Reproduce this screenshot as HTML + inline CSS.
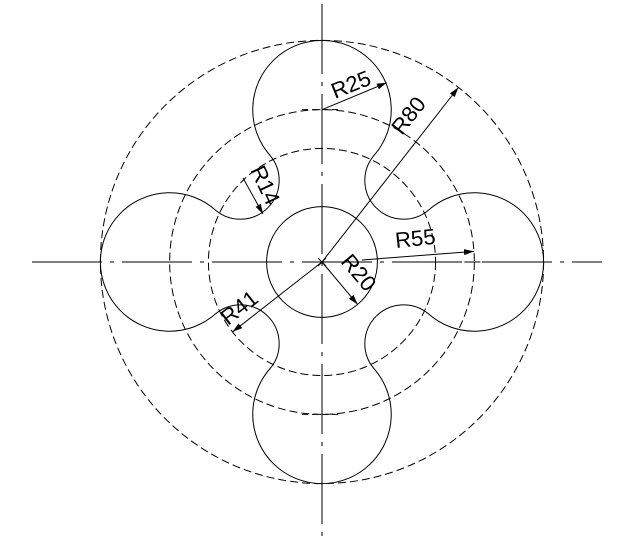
<!DOCTYPE html>
<html><head><meta charset="utf-8"><style>
html,body{margin:0;padding:0;background:#fff;}
svg{display:block;font-family:"Liberation Sans",sans-serif;}
</style></head><body>
<svg id="dwg" width="639" height="555" viewBox="0 0 639 555">
<defs><marker id="ar" viewBox="0 0 10 10" refX="10" refY="5" markerWidth="10" markerHeight="10" orient="auto-start-reverse" markerUnits="userSpaceOnUse"><path d="M0,2 L10,5 L0,8 z" fill="#000"/></marker></defs>
<g id="g" stroke="#000" fill="none" stroke-width="1"></g>
</svg>
<script>
const radii = [80, 55, 41];
const lobeR = 25, filletR = 14, hubR = 20, lobeDist = 55, filletDist = 41;
const labels = ["R80","R55","R41","R25","R20","R14"];
const cx = 322, cy = 262, s = 2.77;
const g = document.getElementById('g');
const NS = 'http://www.w3.org/2000/svg';
function el(tag, attrs, name){const e=document.createElementNS(NS,tag);for(const k in attrs)e.setAttribute(k,attrs[k]);


g.appendChild(e);return e;}
const X = u => cx + u*s, Y = v => cy - v*s;
// center lines
el('line',{x1:32,y1:cy,x2:602,y2:cy,'stroke-dasharray':'70 8 4 8'},'horizontal-centerline');
el('line',{x1:cx,y1:4,x2:cx,y2:540,'stroke-dasharray':'70 8 4 8'},'vertical-centerline');
// dashed circles
radii.forEach(r=>{el('circle',{cx:cx,cy:cy,r:r*s,'stroke-dasharray':'8 4'},'dashed-circle-r'+r);});
// hub
el('circle',{cx:cx,cy:cy,r:hubR*s},'hub-circle');
// outline
const lobes=[[0,lobeDist],[-lobeDist,0],[0,-lobeDist],[lobeDist,0]];
const fil=[[-filletDist/Math.SQRT2,filletDist/Math.SQRT2],[-filletDist/Math.SQRT2,-filletDist/Math.SQRT2],[filletDist/Math.SQRT2,-filletDist/Math.SQRT2],[filletDist/Math.SQRT2,filletDist/Math.SQRT2]];
function tp(L,F){const dx=F[0]-L[0],dy=F[1]-L[1],d=Math.hypot(dx,dy);return [L[0]+lobeR*dx/d,L[1]+lobeR*dy/d];}
let d='';
for(let i=0;i<4;i++){
  const L=lobes[i],Fprev=fil[(i+3)%4],Fnext=fil[i],Lnext=lobes[(i+1)%4];
  const a=tp(L,Fprev),b=tp(L,Fnext),c=tp(Lnext,Fnext);
  if(i===0)d+=`M${X(a[0])},${Y(a[1])}`;
  d+=` A${lobeR*s},${lobeR*s} 0 1 0 ${X(b[0])},${Y(b[1])}`;
  d+=` A${filletR*s},${filletR*s} 0 0 1 ${X(c[0])},${Y(c[1])}`;
}
el('path',{d:d+'Z'},'outer-profile');
// lobe center marks
lobes.forEach((L,i)=>{
  el('line',{x1:X(L[0])-20,y1:Y(L[1]),x2:X(L[0])+20,y2:Y(L[1]),'stroke-dasharray':'6 4'},'lobe-center-mark-h');
});
// center X
el('path',{d:`M${cx-4},${cy-4}L${cx+4},${cy+4}M${cx+4},${cy-4}L${cx-4},${cy+4}`},'center-mark');
// dimensions
function dim(x1,y1,x2,y2,txt,tx,ty,rot,name){
  el('line',{x1,y1,x2,y2,'marker-end':'url(#ar)'},name+'-line');
  const t=el('text',{x:tx,y:ty,'font-size':22,fill:'#000',stroke:'none',transform:`rotate(${rot} ${tx} ${ty})`},name+'-label');
  t.textContent=txt;
}
const a80=-52*Math.PI/180;
dim(cx,cy,X(80*Math.cos(-a80)),Y(80*Math.sin(-a80)),labels[0],402,136,-52,'r80-dim');
const a55=4*Math.PI/180;
dim(cx+40,cy-2,X(55*Math.cos(a55)),Y(55*Math.sin(a55)),labels[1],396,248,-6,'r55-dim');
const a41=218*Math.PI/180;
dim(cx,cy,X(41*Math.cos(a41)),Y(41*Math.sin(a41)),labels[2],228,326,-38,'r41-dim');
dim(X(0),Y(55),X(25*Math.cos(0.4))+1,Y(55+25*Math.sin(0.4)),labels[3],335,99,-22,'r25-dim');
const a20=-50*Math.PI/180;
dim(cx,cy,X(20*Math.cos(a20)),Y(20*Math.sin(a20)),labels[4],340,262,50,'r20-dim');
dim(243,178,263,214,labels[5],250,170,65,'r14-dim');
</script>
</body></html>
